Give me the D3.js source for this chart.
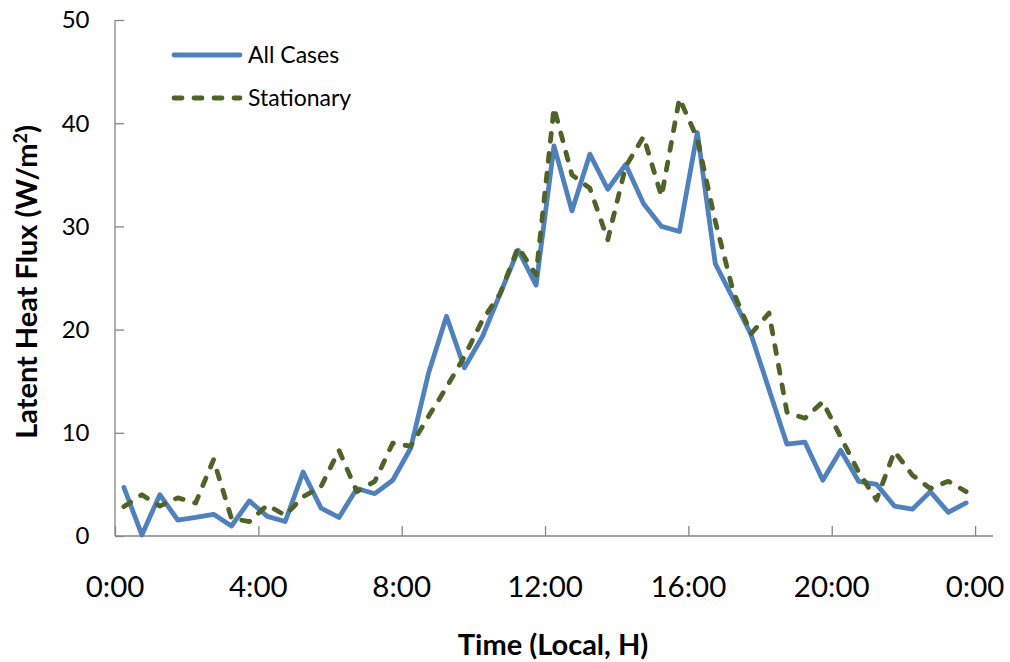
<!DOCTYPE html>
<html>
<head>
<meta charset="utf-8">
<script src="https://cdn.jsdelivr.net/npm/d3@7"></script>
<style>
  html, body { margin: 0; padding: 0; background: #fff; }
  svg { display: block; font-family: Lato, "Open Sans", sans-serif; }
</style>
</head>
<body>
<svg id="chart" width="1010" height="662"></svg>
<script>
// Half-hourly sample times (local hour of day)
const hours = [0.25, 0.75, 1.25, 1.75, 2.25, 2.75, 3.25, 3.75, 4.25, 4.75, 5.25, 5.75,
               6.25, 6.75, 7.25, 7.75, 8.25, 8.75, 9.25, 9.75, 10.25, 10.75, 11.25, 11.75,
               12.25, 12.75, 13.25, 13.75, 14.25, 14.75, 15.25, 15.75, 16.25, 16.75, 17.25, 17.75,
               18.25, 18.75, 19.25, 19.75, 20.25, 20.75, 21.25, 21.75, 22.25, 22.75, 23.25, 23.75];

// Latent heat flux, W/m²
const allCases = [4.7, 0.1, 4.0, 1.55, 1.8, 2.1, 0.97, 3.4, 1.9, 1.4, 6.2, 2.7,
                  1.8, 4.6, 4.1, 5.4, 8.5, 15.8, 21.3, 16.3, 19.3, 23.5, 27.7, 24.3,
                  37.8, 31.5, 37.0, 33.6, 36.0, 32.2, 30.0, 29.5, 39.1, 26.4, 23.0, 19.5,
                  14.2, 8.9, 9.1, 5.4, 8.3, 5.3, 5.0, 2.9, 2.6, 4.3, 2.3, 3.2];

const stationary = [2.85, 4.0, 2.9, 3.7, 3.2, 7.4, 1.7, 1.4, 3.0, 2.0, 3.8, 4.8,
                    8.3, 4.3, 5.3, 9.0, 8.7, 11.6, 14.4, 17.4, 20.9, 23.5, 28.0, 25.3,
                    41.5, 35.0, 33.7, 28.7, 35.8, 38.7, 32.9, 42.4, 38.5, 30.5, 23.7, 19.6,
                    21.6, 12.0, 11.4, 13.0, 9.6, 6.2, 3.5, 8.2, 5.9, 4.6, 5.3, 4.3];

// Axis ticks
const xTicks = [0, 4, 8, 12, 16, 20, 24];
const xTickLabels = ["0:00", "4:00", "8:00", "12:00", "16:00", "20:00", "0:00"];
const yTicks = [0, 10, 20, 30, 40, 50];

const seriesNames = ["All Cases", "Stationary"];

const svg = d3.select("#chart");
const axisColor = "#868686";

const x = d3.scaleLinear().domain([0, 24.5]).range([115, 993]);
const y = d3.scaleLinear().domain([0, 50]).range([536, 20]);

// Y axis (ticks point into the plot)
const yAxis = svg.append("g")
  .attr("transform", `translate(${x(0)},0)`)
  .call(d3.axisRight(y).tickValues(yTicks).tickSize(9).tickFormat(""));
yAxis.select(".domain").attr("stroke", axisColor).attr("stroke-width", 1.3)
  .attr("d", `M0,${y(50)}V${y(0)}`);
yAxis.selectAll(".tick line").attr("stroke", axisColor).attr("stroke-width", 1.3);

svg.append("g").selectAll("text")
  .data(yTicks).join("text")
  .attr("x", 89.5)
  .attr("y", d => y(d))
  .attr("dy", "0.35em")
  .attr("text-anchor", "end")
  .attr("font-size", 24)
  .attr("fill", "#000")
  .text(d => d);

// X axis (ticks point up into the plot)
const xAxis = svg.append("g")
  .attr("transform", `translate(0,${y(0)})`)
  .call(d3.axisTop(x).tickValues(xTicks).tickSize(10).tickFormat(""));
xAxis.select(".domain").attr("stroke", axisColor).attr("stroke-width", 1.3)
  .attr("d", `M${x(0)},0H${x(24.5)}`);
xAxis.selectAll(".tick line").attr("stroke", axisColor).attr("stroke-width", 1.3);

svg.append("g").selectAll("text")
  .data(xTicks).join("text")
  .attr("x", d => x(d))
  .attr("y", 587)
  .attr("dy", "0.35em")
  .attr("text-anchor", "middle")
  .attr("font-size", 29.5)
  .attr("fill", "#000")
  .text((d, i) => xTickLabels[i]);

// Axis titles
svg.append("text")
  .attr("x", 553)
  .attr("y", 655)
  .attr("text-anchor", "middle")
  .attr("font-size", 29)
  .attr("font-weight", "bold")
  .text("Time (Local, H)");

const yTitle = svg.append("text")
  .attr("transform", "translate(37,282) rotate(-90)")
  .attr("text-anchor", "middle")
  .attr("font-size", 29)
  .attr("font-weight", "bold");
yTitle.append("tspan").text("Latent Heat Flux (W/m");
yTitle.append("tspan").attr("font-size", 18).attr("dy", "-0.55em").text("2");
yTitle.append("tspan").attr("dy", "0.35em").text(")");

// Series lines
const line = d3.line()
  .x((d, i) => x(hours[i]))
  .y(d => y(d));

const styles = [
  { color: "#4F81BD", dash: null },
  { color: "#4F6228", dash: "8,12" }
];

[allCases, stationary].forEach((vals, k) => {
  svg.append("path")
    .datum(vals)
    .attr("fill", "none")
    .attr("stroke", styles[k].color)
    .attr("stroke-width", 4.8)
    .attr("stroke-linejoin", "round")
    .attr("stroke-linecap", "round")
    .attr("stroke-dasharray", styles[k].dash)
    .attr("d", line);
});

// Legend
const legend = svg.append("g");
seriesNames.forEach((name, k) => {
  const ly = 55 + k * 43;
  legend.append("line")
    .attr("x1", 174).attr("x2", 240)
    .attr("y1", ly).attr("y2", ly)
    .attr("stroke", styles[k].color)
    .attr("stroke-width", 4.8)
    .attr("stroke-linecap", "round")
    .attr("stroke-dasharray", styles[k].dash);
  legend.append("text")
    .attr("x", 248)
    .attr("y", ly)
    .attr("dy", "0.35em")
    .attr("font-size", 23)
    .attr("fill", "#000")
    .text(name);
});
</script>
</body>
</html>
